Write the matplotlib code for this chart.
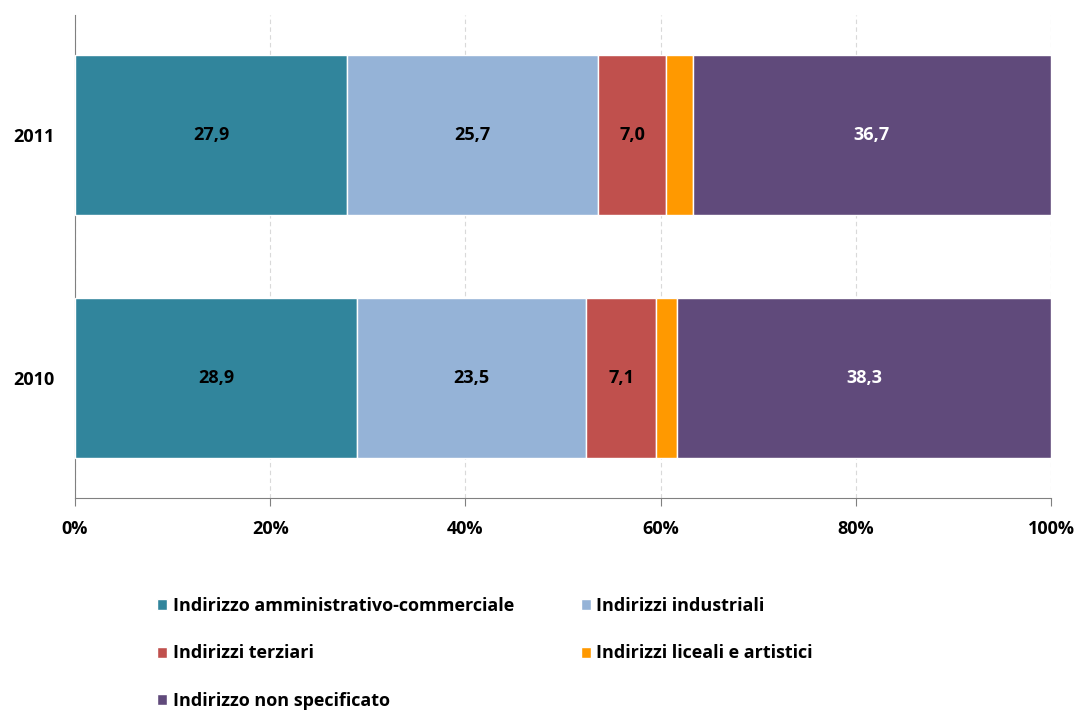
import matplotlib.pyplot as plt
import numpy as np

plt.rcParams['font.family'] = ['Open Sans', 'DejaVu Sans']
plt.rcParams['font.weight'] = 'bold'

anni = ['2010', '2011']
categorie = ['Indirizzo amministrativo-commerciale', 'Indirizzi industriali',
             'Indirizzi terziari', 'Indirizzi liceali e artistici',
             'Indirizzo non specificato']
amministrativo = [28.9, 27.9]
industriali = [23.5, 25.7]
terziari = [7.1, 7.0]
liceali = [2.2, 2.7]
non_specificato = [38.3, 36.7]
serie = [amministrativo, industriali, terziari, liceali, non_specificato]

colori = ['#31859C', '#95B3D7', '#C0504D', '#FF9900', '#604A7B']
col_testo = ['black', 'black', 'black', None, 'white']

fig = plt.figure(figsize=(10.79, 7.11), dpi=100)
ax = fig.add_axes([75/1079, 1-498/711, 976/1079, 483/711])

y = np.arange(len(anni))
left = np.zeros(len(anni))
handles = []
for vals, c, tc, lab in zip(serie, colori, col_testo, categorie):
    b = ax.barh(y, vals, left=left, height=0.658, color=c, edgecolor='white',
                linewidth=1, label=lab, zorder=3)
    handles.append(b)
    if tc is not None:
        for yi, l, v in zip(y, left, vals):
            ax.text(l + v/2, yi, f'{v:.1f}'.replace('.', ','), ha='center',
                    va='center', color=tc, fontsize=13, fontweight='bold',
                    zorder=4)
    left += np.array(vals)

ax.set_xlim(0, 100)
ax.set_ylim(-0.494, 1.494)
ax.set_yticks(y)
ax.set_yticklabels(anni, fontsize=13, fontweight='bold')
ax.set_xticks([0, 20, 40, 60, 80, 100])
ax.set_xticklabels(['0%', '20%', '40%', '60%', '80%', '100%'],
                   fontsize=13, fontweight='bold')
ax.tick_params(axis='y', length=0, pad=15)
ax.tick_params(axis='x', length=6, color='#808080', direction='out', pad=10)
ax.grid(axis='x', color='#d9d9d9', linestyle=(0, (4, 3)), linewidth=0.8,
        zorder=0)
for s in ['top', 'right']:
    ax.spines[s].set_visible(False)
for s in ['left', 'bottom']:
    ax.spines[s].set_color('#808080')

order = [0, 2, 4, 1, 3]
leg = fig.legend([handles[i] for i in order], [categorie[i] for i in order],
                 ncol=2, loc='upper left', bbox_to_anchor=(141/1079, 1-581/711),
                 frameon=False, fontsize=13, handlelength=0.55,
                 handleheight=0.55, handletextpad=0.3, columnspacing=3.7,
                 labelspacing=1.62)
for t in leg.get_texts():
    t.set_fontweight('bold')

fig.savefig('out.png', dpi=100)
